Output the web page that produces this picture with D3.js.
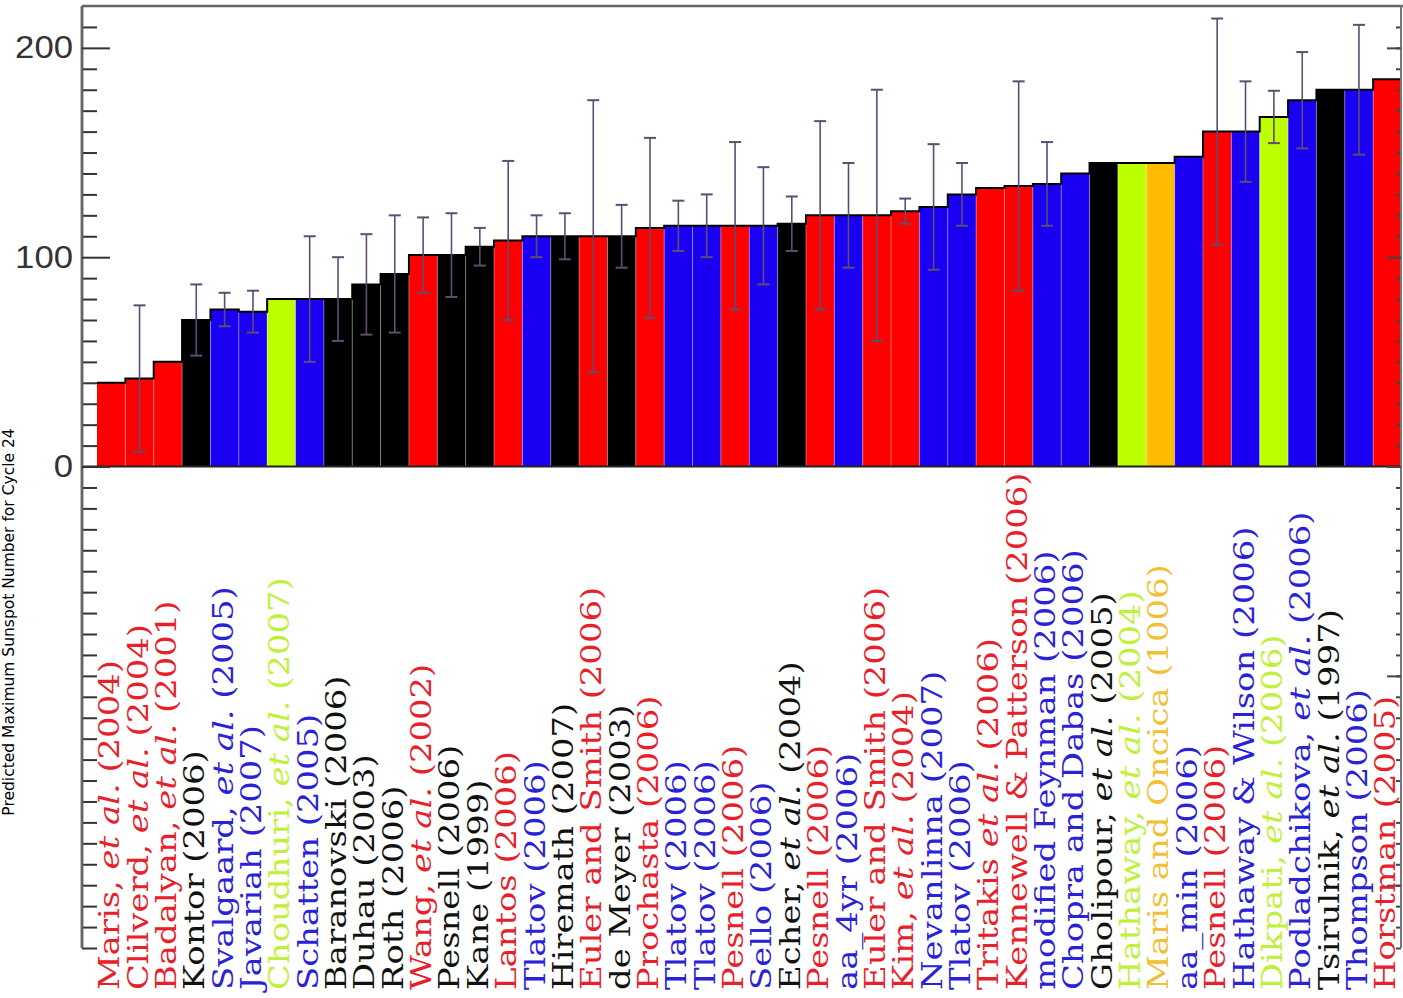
<!DOCTYPE html>
<html>
<head>
<meta charset="utf-8">
<script src="https://cdn.jsdelivr.net/npm/d3@7"></script>
<style>
  html, body { margin: 0; padding: 0; background: #fff; }
  svg { display: block; }
</style>
</head>
<body>
<svg id="chart" width="1403" height="998"></svg>
<script>
// ---------------- data ----------------
const labels = [
  "Maris, et al. (2004)", "Clilverd, et al. (2004)", "Badalyan, et al. (2001)", "Kontor (2006)",
  "Svalgaard, et al. (2005)", "Javariah (2007)", "Choudhuri, et al. (2007)", "Schatten (2005)",
  "Baranovski (2006)", "Duhau (2003)", "Roth (2006)", "Wang, et al. (2002)", "Pesnell (2006)",
  "Kane (1999)", "Lantos (2006)", "Tlatov (2006)", "Hiremath (2007)", "Euler and Smith (2006)",
  "de Meyer (2003)", "Prochasta (2006)", "Tlatov (2006)", "Tlatov (2006)", "Pesnell (2006)",
  "Sello (2006)", "Echer, et al. (2004)", "Pesnell (2006)", "aa_4yr (2006)", "Euler and Smith (2006)",
  "Kim, et al. (2004)", "Nevanlinna (2007)", "Tlatov (2006)", "Tritakis et al. (2006)",
  "Kennewell & Patterson (2006)", "modified Feynman (2006)", "Chopra and Dabas (2006)",
  "Gholipour, et al. (2005)", "Hathaway, et al. (2004)", "Maris and Oncica (1006)", "aa_min (2006)",
  "Pesnell (2006)", "Hathaway & Wilson (2006)", "Dikpati, et al. (2006)", "Podladchikova, et al. (2006)",
  "Tsirulnik, et al. (1997)", "Thompson (2006)", "Horstman (2005)"
];
const values = [40, 42, 50, 70, 75, 74, 80, 80, 80, 87,
                92, 101, 101, 105, 108, 110, 110, 110, 110, 114,
                115, 115, 115, 115, 116, 120, 120, 120, 122, 124,
                130, 133, 134, 135, 140, 145, 145, 145, 148, 160,
                160, 167, 175, 180, 180, 185];
const errors = [null, 35, null, 17, 8, 10, null, 30, 20, 24,
                28, 18, 20, 9, 38, 10, 11, 65, 15, 43,
                12, 15, 40, 28, 13, 45, 25, 60, 6, 30,
                15, null, 50, 20, null, null, null, null, null, 54,
                24, 12.5, 23, null, 31, null];
const groups = ["red","red","red","black","blue","blue","green","blue","black","black",
                "black","red","black","black","red","blue","black","red","black","red",
                "blue","blue","red","blue","black","red","blue","red","red","blue",
                "blue","red","red","blue","blue","black","green","orange","blue","red",
                "blue","green","blue","black","blue","red"];
const majorTicks = [0, 100, 200];
const yTitle = "Predicted Maximum Sunspot Number for Cycle 24";

// ---------------- styles ----------------
const barFill = {red: "#ff0000", blue: "#1a00f2", black: "#000000", green: "#bbff00", orange: "#ffbb00"};
const textFill = {red: "#e8202a", blue: "#2a22d8", black: "#111111", green: "#bff03a", orange: "#f2c035"};

const svg = d3.select("#chart");
const axisX = 82, plotRight = 1401.5, barLeft = 97;

const x = d3.scaleBand().domain(d3.range(values.length)).range([barLeft, plotRight]).padding(0);
const y = d3.scaleLinear().domain([-230, 220]).range([948, 6]);

// frame top
svg.append("line").attr("x1", axisX).attr("x2", 1403).attr("y1", y(220)).attr("y2", y(220))
  .attr("stroke", "#666").attr("stroke-width", 2.5);

// bars
svg.append("g").selectAll("rect").data(values).join("rect")
  .attr("x", (d, i) => x(i))
  .attr("width", x.bandwidth())
  .attr("y", d => y(d))
  .attr("height", d => y(0) - y(d))
  .attr("fill", (d, i) => barFill[groups[i]]);

// faint separators between bars
svg.append("g").selectAll("line").data(values.slice(1)).join("line")
  .attr("x1", (d, i) => x(i + 1)).attr("x2", (d, i) => x(i + 1))
  .attr("y1", (d, i) => y(Math.min(values[i], values[i + 1])))
  .attr("y2", y(0))
  .attr("stroke", "#ffffff").attr("stroke-opacity", 0.35).attr("stroke-width", 1);

// step outline along bar tops
const stepPts = values.map((v, i) => [x(i), y(v)]);
stepPts.push([plotRight, y(values[values.length - 1])]);
svg.append("path")
  .attr("d", d3.line().curve(d3.curveStepAfter)(stepPts))
  .attr("fill", "none").attr("stroke", "#000").attr("stroke-width", 2);

// zero line
svg.append("line").attr("x1", axisX).attr("x2", plotRight).attr("y1", y(0)).attr("y2", y(0))
  .attr("stroke", "#222").attr("stroke-width", 2);

// error bars
const errData = values.map((v, i) => ({i, v, e: errors[i]})).filter(d => d.e != null);
const eg = svg.append("g").attr("stroke", "#5e4d70").attr("stroke-width", 1.6).attr("fill", "none");
errData.forEach(d => {
  const cx = x(d.i) + x.bandwidth() / 2;
  eg.append("line").attr("x1", cx).attr("x2", cx).attr("y1", y(d.v + d.e)).attr("y2", y(d.v - d.e));
  eg.append("line").attr("x1", cx - 6).attr("x2", cx + 6).attr("y1", y(d.v + d.e)).attr("y2", y(d.v + d.e)).attr("stroke-width", 2);
  eg.append("line").attr("x1", cx - 6).attr("x2", cx + 6).attr("y1", y(d.v - d.e)).attr("y2", y(d.v - d.e)).attr("stroke-width", 2);
});

// left axis
const minorTicks = d3.range(-230, 220, 10).filter(t => !majorTicks.includes(t));
const gMinor = svg.append("g").attr("transform", `translate(${axisX},0)`)
  .call(d3.axisLeft(y).tickValues(minorTicks).tickSize(-15).tickFormat(""));
const gMajor = svg.append("g").attr("transform", `translate(${axisX},0)`)
  .call(d3.axisLeft(y).tickValues(majorTicks).tickSize(-28).tickPadding(9).tickFormat(d3.format("d")));
[gMinor, gMajor].forEach(g => {
  g.select(".domain").attr("stroke", "#666").attr("stroke-width", 2.5).attr("d", `M0,${y(220)}V${y(-230)}`);
  g.selectAll(".tick line").attr("stroke", "#333").attr("stroke-width", 2);
});
gMajor.selectAll(".tick text")
  .attr("font-family", "Liberation Sans, Arial, sans-serif")
  .attr("font-size", 31).attr("fill", "#333")
  .attr("transform", "scale(1.12,1)")
  .attr("x", -9 / 1.12);

// right axis
const rMinor = svg.append("g").attr("transform", `translate(1401,0)`)
  .call(d3.axisRight(y).tickValues(d3.range(-230, 220, 10)).tickSize(-5).tickFormat(""));
const rMajor = svg.append("g").attr("transform", `translate(1401,0)`)
  .call(d3.axisRight(y).tickValues([-200, -100, 0, 100, 200]).tickSize(-14).tickFormat(""));
[rMinor, rMajor].forEach(g => {
  g.select(".domain").attr("stroke", "#777").attr("stroke-width", 2).attr("d", `M0,${y(220)}V${y(-230)}`);
  g.selectAll(".tick line").attr("stroke", "#444").attr("stroke-width", 2);
});

// y-axis title along the left edge
svg.append("text")
  .attr("transform", `translate(14,${622}) rotate(-90)`)
  .attr("text-anchor", "middle")
  .attr("font-family", "DejaVu Sans, sans-serif")
  .attr("font-size", 15.5).attr("fill", "#000")
  .text(yTitle);

// rotated category labels
const lg = svg.append("g");
labels.forEach((lab, i) => {
  const cx = x(i) + x.bandwidth() / 2 + 8;
  const t = lg.append("text")
    .attr("transform", `translate(${cx},990) rotate(-90) scale(1.23,1)`)
    .attr("font-family", "DejaVu Serif, serif")
    .attr("font-size", 27.5)
    .attr("fill", textFill[groups[i]]);
  const parts = lab.split("et al.");
  if (parts.length === 2) {
    t.append("tspan").text(parts[0]);
    t.append("tspan").attr("font-style", "italic").text("et al.");
    t.append("tspan").text(parts[1]);
  } else {
    t.text(lab);
  }
});
</script>
</body>
</html>
